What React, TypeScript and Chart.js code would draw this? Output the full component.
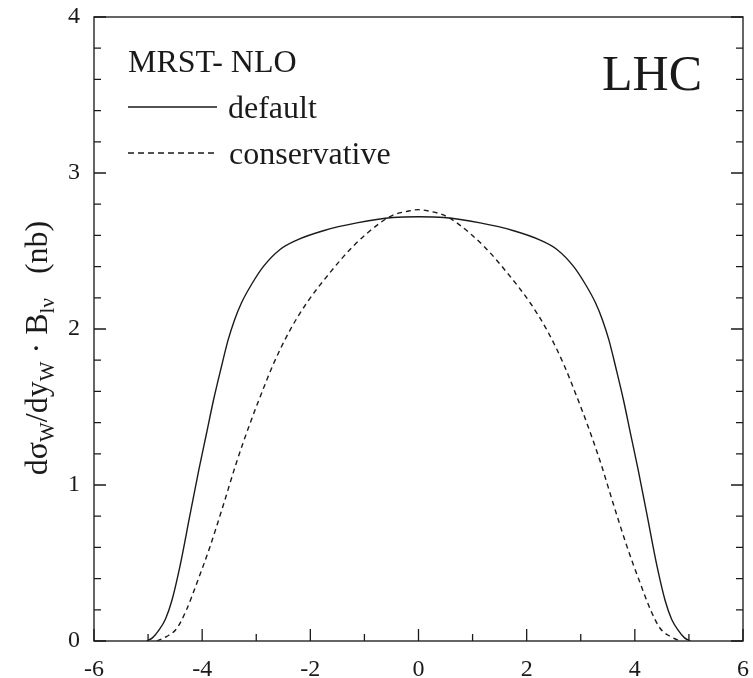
import React, { useEffect, useRef } from "react";
import { Chart, registerables } from "chart.js";

Chart.register(...registerables);

// ---- data ----
const defaultX = [-5.03, -4.92, -4.8, -4.68, -4.56, -4.41, -4.23, -4.06, -3.92, -3.79, -3.65, -3.52, -3.4, -3.27, -3.08, -2.87, -2.56, -2.25, -1.76, -1.14, -0.47, 0, 0.47, 1.14, 1.76, 2.25, 2.56, 2.87, 3.08, 3.27, 3.4, 3.52, 3.65, 3.79, 3.92, 4.06, 4.23, 4.41, 4.56, 4.68, 4.8, 4.92, 5.03];
const defaultY = [0, 0.02, 0.07, 0.14, 0.26, 0.48, 0.8, 1.1, 1.33, 1.545, 1.75, 1.93, 2.06, 2.17, 2.29, 2.4, 2.51, 2.57, 2.63, 2.68, 2.715, 2.72, 2.715, 2.68, 2.63, 2.57, 2.51, 2.4, 2.29, 2.17, 2.06, 1.93, 1.75, 1.545, 1.33, 1.1, 0.8, 0.48, 0.26, 0.14, 0.07, 0.02, 0];

const conservativeX = [-4.84, -4.65, -4.47, -4.29, -4.1, -3.86, -3.61, -3.37, -3.12, -2.9, -2.69, -2.38, -2.07, -1.64, -1.21, -0.71, -0.47, -0.2, 0, 0.2, 0.47, 0.71, 1.21, 1.64, 2.07, 2.38, 2.69, 2.9, 3.12, 3.37, 3.61, 3.86, 4.1, 4.29, 4.47, 4.65, 4.84];
const conservativeY = [0, 0.03, 0.08, 0.2, 0.37, 0.6, 0.87, 1.14, 1.39, 1.59, 1.77, 1.99, 2.165, 2.36, 2.53, 2.68, 2.73, 2.755, 2.765, 2.755, 2.73, 2.68, 2.53, 2.36, 2.165, 1.99, 1.77, 1.59, 1.39, 1.14, 0.87, 0.6, 0.37, 0.2, 0.08, 0.03, 0];

const seriesNames = ["default", "conservative"];
const pdfLabel = "MRST- NLO";
const colliderLabel = "LHC";

const xMajorTicks = [-6, -4, -2, 0, 2, 4, 6];
const xMinorTicks = [-5, -3, -1, 1, 3, 5];
const yMajorTicks = [0, 1, 2, 3, 4];
const yMinorTicks = [0.2, 0.4, 0.6, 0.8, 1.2, 1.4, 1.6, 1.8, 2.2, 2.4, 2.6, 2.8, 3.2, 3.4, 3.6, 3.8];

const SERIF = '"Liberation Serif", "DejaVu Serif", serif';
const INK = "#1a1a1a";

const framePlugin = {
  id: "frameAndText",
  afterDraw(chart: any) {
    const ctx = chart.ctx as CanvasRenderingContext2D;
    const { left, right, top, bottom } = chart.chartArea;
    const xs = chart.scales.x;
    const ys = chart.scales.y;
    ctx.save();
    ctx.strokeStyle = "#333";
    ctx.lineWidth = 1.5;
    ctx.strokeRect(left, top, right - left, bottom - top);

    ctx.lineWidth = 1.3;
    ctx.strokeStyle = INK;
    const major = 12;
    const minor = 7;
    ctx.beginPath();
    for (const v of xMajorTicks) {
      const p = xs.getPixelForValue(v);
      ctx.moveTo(p, bottom);
      ctx.lineTo(p, bottom - major);
    }
    for (const v of xMinorTicks) {
      const p = xs.getPixelForValue(v);
      ctx.moveTo(p, bottom);
      ctx.lineTo(p, bottom - minor);
    }
    for (const v of yMajorTicks) {
      const p = ys.getPixelForValue(v);
      ctx.moveTo(left, p);
      ctx.lineTo(left + major, p);
      ctx.moveTo(right, p);
      ctx.lineTo(right - major, p);
    }
    for (const v of yMinorTicks) {
      const p = ys.getPixelForValue(v);
      ctx.moveTo(left, p);
      ctx.lineTo(left + minor, p);
      ctx.moveTo(right, p);
      ctx.lineTo(right - minor, p);
    }
    ctx.stroke();

    // legend block
    ctx.fillStyle = INK;
    ctx.textBaseline = "alphabetic";
    ctx.textAlign = "left";
    ctx.font = `32px ${SERIF}`;
    ctx.fillText(pdfLabel, 128, 72);

    ctx.lineWidth = 1.3;
    ctx.beginPath();
    ctx.setLineDash([]);
    ctx.moveTo(128, 107);
    ctx.lineTo(217, 107);
    ctx.stroke();
    ctx.fillText(seriesNames[0], 228, 118);

    ctx.beginPath();
    ctx.setLineDash([6, 4]);
    ctx.moveTo(128, 153);
    ctx.lineTo(217, 153);
    ctx.stroke();
    ctx.setLineDash([]);
    ctx.fillText(seriesNames[1], 229, 164);

    ctx.font = `50px ${SERIF}`;
    ctx.fillText(colliderLabel, 602, 90);

    // y-axis title with subscripts
    const base = `32px ${SERIF}`;
    const sub = `21px ${SERIF}`;
    const parts: [string, boolean][] = [
      ["dσ", false],
      ["W", true],
      ["/dy", false],
      ["W", true],
      [" · B", false],
      ["lν", true],
      ["   (nb)", false],
    ];
    let total = 0;
    for (const [t, s] of parts) {
      ctx.font = s ? sub : base;
      total += ctx.measureText(t).width;
    }
    ctx.translate(47, 348);
    ctx.rotate(-Math.PI / 2);
    let x = -total / 2;
    for (const [t, s] of parts) {
      ctx.font = s ? sub : base;
      ctx.fillText(t, x, s ? 7 : 0);
      x += ctx.measureText(t).width;
    }
    ctx.restore();
  },
};

const zeroPad = (s: any) => {
  s.paddingLeft = 0;
  s.paddingRight = 0;
  s.paddingTop = 0;
  s.paddingBottom = 0;
};

export default function App() {
  const ref = useRef<HTMLCanvasElement | null>(null);
  useEffect(() => {
    if (!ref.current) return;
    const chart = new Chart(ref.current, {
      type: "scatter",
      data: {
        datasets: [
          {
            label: seriesNames[0],
            data: defaultX.map((x, i) => ({ x, y: defaultY[i] })),
            showLine: true,
            borderColor: INK,
            borderWidth: 1.4,
            pointRadius: 0,
            cubicInterpolationMode: "monotone",
          },
          {
            label: seriesNames[1],
            data: conservativeX.map((x, i) => ({ x, y: conservativeY[i] })),
            showLine: true,
            borderColor: INK,
            borderWidth: 1.4,
            borderDash: [5, 4],
            pointRadius: 0,
            cubicInterpolationMode: "monotone",
          },
        ],
      },
      options: {
        responsive: false,
        animation: false,
        layout: { padding: { top: 17, right: 10, left: 0, bottom: 0 } },
        plugins: { legend: { display: false }, tooltip: { enabled: false } },
        scales: {
          x: {
            type: "linear",
            min: -6,
            max: 6,
            grid: { display: false, drawTicks: false },
            border: { display: false },
            ticks: {
              stepSize: 2,
              padding: 14,
              color: INK,
              font: { family: SERIF, size: 24 },
              maxRotation: 0,
            },
            afterFit: (s: any) => {
              s.height = 37;
              zeroPad(s);
            },
          },
          y: {
            type: "linear",
            min: 0,
            max: 4,
            grid: { display: false, drawTicks: false },
            border: { display: false },
            ticks: {
              stepSize: 1,
              padding: 14,
              color: INK,
              font: { family: SERIF, size: 24 },
            },
            afterFit: (s: any) => {
              s.width = 94;
              zeroPad(s);
            },
          },
        },
      },
      plugins: [framePlugin],
    });
    return () => chart.destroy();
  }, []);
  return (
    <div style={{ position: "absolute", left: 0, top: 0, width: 753, height: 678, background: "#fff" }}>
      <canvas ref={ref} width={753} height={678} />
    </div>
  );
}
